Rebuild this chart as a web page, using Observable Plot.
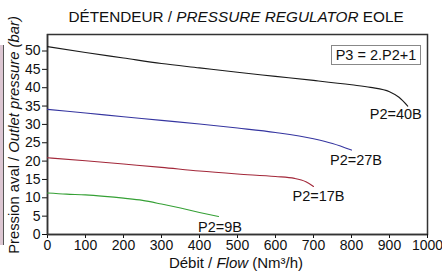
<!DOCTYPE html>
<html>
<head>
<meta charset="utf-8">
<script src="https://cdn.jsdelivr.net/npm/d3@7"></script>
<script src="https://cdn.jsdelivr.net/npm/@observablehq/plot@0.6"></script>
<style>
  html, body { margin: 0; padding: 0; background: #fff; }
  #wrap { position: relative; width: 442px; height: 271px; overflow: hidden; font-family: "Liberation Sans", Arial, sans-serif; color: #111; }
  .lbl { position: absolute; font-size: 15px; line-height: 1; white-space: nowrap; }
  #title { left: 236px; top: 17px; transform: translate(-50%, -50%); font-size: 15.3px; }
  #ylab { left: 14px; top: 135px; transform: translate(-50%, -50%) rotate(-90deg); font-size: 14.8px; }
  #xlab { left: 236px; top: 262px; transform: translate(-50%, -50%); }
  #box { left: 331px; top: 45px; width: 88px; height: 18px; border: 1px solid #888; text-align: center; line-height: 18px; font-size: 14.5px; }
  #edge { position: absolute; left: 0; top: 45px; width: 3px; height: 200px; background: #dcc6d2; border-right: 1px solid #555; }
</style>
</head>
<body>
<div id="wrap">
  <div id="edge"></div>
  <div id="chart"></div>
  <div class="lbl" id="title">DÉTENDEUR / <i>PRESSURE REGULATOR</i> EOLE</div>
  <div class="lbl" id="ylab">Pression aval / <i>Outlet pressure (bar)</i></div>
  <div class="lbl" id="xlab">Débit / <i>Flow</i> (Nm³/h)</div>
  <div class="lbl" id="box">P3 = 2.P2+1</div>
</div>
<script>
// Flow (Nm3/h) and outlet pressure (bar) per inlet pressure series
const flow40 = [0, 100, 200, 300, 400, 500, 600, 700, 800, 850, 900, 925, 948];
const pres40 = [51.2, 49.6, 48.1, 46.6, 45.4, 44.2, 43.1, 42.0, 40.8, 40.1, 38.9, 37.4, 35.0];
const flow27 = [0, 100, 200, 300, 400, 500, 600, 700, 750, 800];
const pres27 = [34.1, 33.1, 32.1, 31.1, 30.1, 29.0, 27.8, 26.1, 24.8, 23.0];
const flow17 = [0, 100, 200, 300, 400, 500, 600, 650, 680, 700];
const pres17 = [20.9, 20.1, 19.2, 18.3, 17.3, 16.5, 15.8, 15.3, 14.4, 13.1];
const flow9 = [0, 50, 100, 150, 200, 250, 300, 350, 400, 450];
const pres9 = [11.3, 11.0, 10.8, 10.4, 9.9, 9.3, 8.3, 7.2, 6.0, 4.9];
const seriesNames = ["P2=40B", "P2=27B", "P2=17B", "P2=9B"];
const seriesColors = ["#1a1a1a", "#3535a0", "#a3283a", "#35a035"];
const xTicks = [0, 100, 200, 300, 400, 500, 600, 700, 800, 900, 1000];
const yTicks = [0, 5, 10, 15, 20, 25, 30, 35, 40, 45, 50];

const flows = [flow40, flow27, flow17, flow9];
const pres = [pres40, pres27, pres17, pres9];
const data = [];
seriesNames.forEach((s, i) => flows[i].forEach((f, j) => data.push({series: s, flow: f, p: pres[i][j]})));
const ends = seriesNames.map((s, i) => ({series: s, flow: flows[i][flows[i].length - 1], p: pres[i][pres[i].length - 1]}));

const labelOffsets = [[-12, 8.5], [4.5, 10], [5, 9.5], [1.5, 11]];

const chart = Plot.plot({
  width: 442,
  height: 271,
  marginLeft: 47,
  marginRight: 15,
  marginTop: 34,
  marginBottom: 37,
  style: {fontFamily: "'Liberation Sans', Arial, sans-serif", fontSize: "14px", color: "#111", background: "transparent"},
  x: {domain: [0, 1000], label: null},
  y: {domain: [0, 54.5], label: null},
  color: {domain: seriesNames, range: seriesColors},
  marks: [
    Plot.frame({stroke: "#333", strokeWidth: 1.5}),
    Plot.axisX({ticks: xTicks, tickSize: 4, tickPadding: 2, tickFormat: d => String(d), label: null, fontSize: 14}),
    Plot.axisY({ticks: yTicks, tickSize: 5, tickPadding: 2, tickFormat: d => String(d), label: null, fontSize: 14}),
    Plot.ruleY([0], {stroke: "#333", strokeWidth: 1.5}),
    Plot.ruleX([0], {stroke: "#333", strokeWidth: 1.5}),
    Plot.line(data, {x: "flow", y: "p", z: "series", stroke: "series", strokeWidth: 1.1, curve: "monotone-x"}),
    ...ends.map((e, i) => Plot.text([e], {x: "flow", y: "p", text: "series", dx: labelOffsets[i][0], dy: labelOffsets[i][1], textAnchor: "middle", lineAnchor: "middle", fontSize: 14.5, fill: "#111"}))
  ]
});
document.getElementById("chart").appendChild(chart);
</script>
</body>
</html>
